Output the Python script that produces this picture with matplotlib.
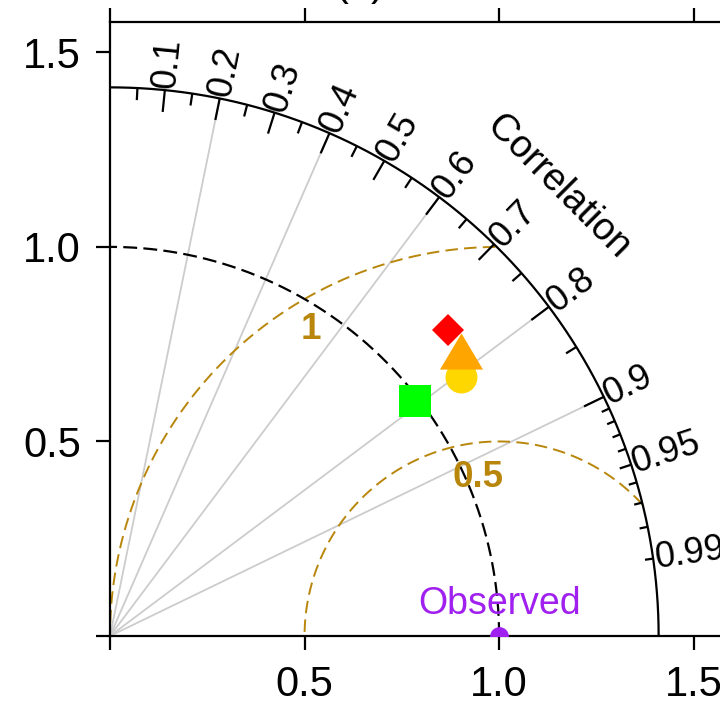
import numpy as np
import matplotlib
matplotlib.use("Agg")
import matplotlib.pyplot as plt

plt.rcParams["font.family"] = ["Liberation Sans", "DejaVu Sans"]
plt.rcParams["lines.scale_dashes"] = False

# reference ("Observed") and model statistics
ref_sd = 1.0
max_sd = 1.41
model_sd = [1.120, 1.161, 1.172, 0.990]
model_corr = [0.805, 0.776, 0.742, 0.793]
model_colors = ["#ffd700", "#ffa500", "#ff0000", "#00ff00"]

# correlation grid
corr_labels = [0.1, 0.2, 0.3, 0.4, 0.5, 0.6, 0.7, 0.8, 0.9, 0.95, 0.99]
big_ticks = [0.1, 0.2, 0.3, 0.4, 0.5, 0.6, 0.7, 0.8, 0.9]
med_ticks = [0.05, 0.15, 0.25, 0.35, 0.45, 0.55, 0.65, 0.75, 0.85, 0.95]
small_ticks = [0.91, 0.92, 0.93, 0.94, 0.96, 0.97, 0.98, 0.99]
corr_lines = [0.2, 0.4, 0.6, 0.8, 0.9]
gamma = [0.5, 1.0]
gamma_text = ["0.5", "1"]

GOLD = "#b8860b"
tri = [(-1, -0.84), (1, -0.84), (0, 0.84)]
marker_shapes = ["o", tri, "D", "s"]
marker_sizes = [23, 31, 15.8, 23]

fig = plt.figure(figsize=(7.2, 7.05), dpi=100)
ax = fig.add_axes([110 / 720, 69 / 705, 614 / 720, 614 / 705])
lim = 1.578
ax.set_xlim(0, lim)
ax.set_ylim(0, lim)

theta = np.linspace(0, np.pi / 2, 400)

# grey correlation rays
for c in corr_lines:
    a = np.arccos(c)
    ax.plot([0, max_sd * np.cos(a)], [0, max_sd * np.sin(a)],
            color="#cccccc", lw=1.3, zorder=1)

# centred RMS circles around the reference point
phi = np.linspace(0, np.pi, 800)
for g in gamma:
    xc = ref_sd + g * np.cos(phi)
    yc = g * np.sin(phi)
    keep = xc ** 2 + yc ** 2 <= max_sd ** 2
    ax.plot(xc[keep], yc[keep], color=GOLD, lw=1.4,
            linestyle=(0, (9, 4.5)), zorder=2)

gamma_pos = [(0.947, 0.407), (0.516, 0.787)]
for txt, (gx, gy) in zip(gamma_text, gamma_pos):
    ax.text(gx, gy, txt, color=GOLD, fontsize=26.5, fontweight="bold",
            ha="center", va="center", zorder=3)

# reference sd arc
ax.plot(ref_sd * np.cos(theta), ref_sd * np.sin(theta), color="black",
        lw=1.6, linestyle=(0, (10, 4.5)), zorder=2)

# outer arc with correlation ticks
ax.plot(max_sd * np.cos(theta), max_sd * np.sin(theta), color="black",
        lw=1.6, zorder=3)
for ticks, frac in [(big_ticks, 0.96), (med_ticks, 0.978), (small_ticks, 0.985)]:
    for c in ticks:
        a = np.arccos(c)
        ax.plot([max_sd * np.cos(a), frac * max_sd * np.cos(a)],
                [max_sd * np.sin(a), frac * max_sd * np.sin(a)],
                color="black", lw=1.6, zorder=3, solid_capstyle="butt")

for c in corr_labels:
    a = np.arccos(c)
    ax.text(1.415 * np.cos(a), 1.415 * np.sin(a), f"{c:g}", fontsize=26,
            rotation=np.degrees(a), rotation_mode="anchor",
            ha="left", va="center", zorder=4)

ax.text(1.63 * np.cos(np.pi / 4), 1.63 * np.sin(np.pi / 4), "Correlation",
        fontsize=27.5, rotation=-45, rotation_mode="anchor",
        ha="center", va="center")

# observed point (half hidden by the axis)
ax.plot([ref_sd], [0], "o", color="#a020f0", ms=13.5, mew=0, zorder=5)
ax.text(ref_sd, 0.083, "Observed", color="#a020f0", fontsize=27,
        ha="center", va="center")

# models
for sd, r, col, mk, ms in zip(model_sd, model_corr, model_colors,
                              marker_shapes, marker_sizes):
    a = np.arccos(r)
    ax.plot([sd * np.cos(a)], [sd * np.sin(a)], marker=mk, color=col,
            ms=ms, mew=0, linestyle="none", zorder=6)

# axes frame
for side in ["left", "bottom", "top"]:
    ax.spines[side].set_linewidth(1.6)
ax.spines["right"].set_visible(False)
ticks = [0, 0.5, 1.0, 1.5]
ticklabels = ["", "0.5", "1.0", "1.5"]
ax.set_xticks(ticks)
ax.set_xticklabels(ticklabels)
ax.set_yticks(ticks)
ax.set_yticklabels(ticklabels)
ax.tick_params(direction="out", length=10, width=1.6, labelsize=30, pad=11,
               top=True, labeltop=False, right=False)

# cut-off panel title at the very top
fig.text(360 / 720, 709.8 / 705, "(a)", fontsize=30, ha="center",
         va="baseline")

fig.savefig("out.png", dpi=100)
